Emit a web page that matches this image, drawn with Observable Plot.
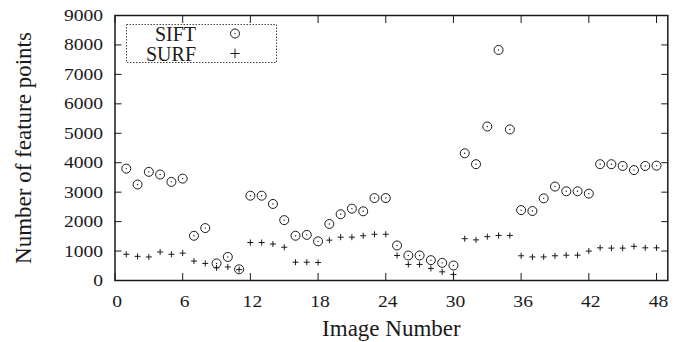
<!DOCTYPE html>
<html>
<head>
<meta charset="utf-8">
<script src="https://cdn.jsdelivr.net/npm/d3@7"></script>
<script src="https://cdn.jsdelivr.net/npm/@observablehq/plot@0.6"></script>
<style>
  html, body { margin: 0; padding: 0; background: #fff; }
  #wrap { position: relative; width: 685px; height: 342px; }
  #legend { position: absolute; left: 0; top: 0; pointer-events: none; }
</style>
</head>
<body>
<div id="wrap"></div>
<script>
// ---- data ----
const images = d3.range(1, 49);
const sift = [3800,3260,3690,3600,3350,3460, 1520,1780,580,800,380,2880,
              2880,2600,2050,1520,1550,1330, 1920,2250,2440,2350,2800,2800,
              1190,850,850,690,600,510, 4320,3950,5230,7830,5130,2390,
              2360,2790,3190,3030,3030,2950, 3950,3950,3890,3750,3890,3900];
const surf = [890,820,800,970,890,930, 660,580,430,460,370,1290,
              1290,1240,1130,620,620,610, 1370,1470,1470,1520,1570,1570,
              850,545,545,410,295,205, 1420,1380,1490,1530,1530,840,
              800,800,840,860,860,1000, 1110,1100,1100,1160,1110,1110];
const xTicks = [0, 6, 12, 18, 24, 30, 36, 42, 48];
const yTicks = [0, 1000, 2000, 3000, 4000, 5000, 6000, 7000, 8000, 9000];
const seriesNames = ["SIFT", "SURF"];
const xLabel = "Image Number";
const yLabel = "Number of feature points";

const siftData = images.map((n, i) => ({n, v: sift[i]}));
const surfData = images.map((n, i) => ({n, v: surf[i]}));

const font = "'Liberation Serif', 'Times New Roman', serif";
const ink = "#1a1a1a";

const chart = Plot.plot({
  width: 685,
  height: 342,
  marginLeft: 114.5,
  marginRight: 17.7,
  marginTop: 15,
  marginBottom: 62,
  style: {fontFamily: font, fontSize: "17px", color: ink, background: "#fff"},
  x: {domain: [0, 49]},
  y: {domain: [0, 9000]},
  marks: [
    // inward ticks on all four sides (outward ticks shifted inside the frame)
    Plot.axisX(xTicks, {anchor: "bottom", tickSize: 7, dy: -7, text: null, label: null, stroke: ink}),
    Plot.axisX(xTicks, {anchor: "top", tickSize: 7, dy: 7, text: null, label: null, stroke: ink}),
    Plot.axisY(yTicks, {anchor: "left", tickSize: 7, dx: 7, text: null, label: null, stroke: ink}),
    Plot.axisY(yTicks, {anchor: "right", tickSize: 7, dx: -7, text: null, label: null, stroke: ink}),
    // tick labels
    Plot.axisX(xTicks, {anchor: "bottom", tickSize: 0, tickPadding: 14, dx: 2, label: null, fontSize: 17}),
    Plot.axisY(yTicks, {anchor: "left", tickSize: 0, tickPadding: 12, label: null, tickFormat: d => String(d), fontSize: 17}),
    Plot.frame({stroke: ink, strokeWidth: 1.5}),
    // SURF
    Plot.dot(surfData, {x: "n", y: "v", symbol: "plus", r: 2.1, stroke: ink, strokeWidth: 1}),
    // SIFT
    Plot.dot(siftData, {x: "n", y: "v", symbol: "circle", r: 4.5, stroke: ink, strokeWidth: 1, fill: "none"}),
    Plot.dot(siftData, {x: "n", y: "v", r: 0.7, fill: ink, stroke: "none"}),
    // axis titles
    Plot.text([xLabel], {frameAnchor: "bottom", dy: 48.6, fontSize: 23, lineAnchor: "middle", fill: ink}),
    Plot.text([yLabel], {frameAnchor: "left", textAnchor: "middle", dx: -91.4, rotate: -90, fontSize: 23, lineAnchor: "middle", fill: ink})
  ]
});

const wrap = document.getElementById("wrap");
wrap.appendChild(chart);

// the reference's digits are slightly wider than Liberation Serif: stretch horizontally
function stretch(sel, k) {
  d3.select(chart).selectAll(sel).each(function () {
    const L = this.getComputedTextLength();
    this.setAttribute("textLength", L * k);
    this.setAttribute("lengthAdjust", "spacingAndGlyphs");
  });
}
stretch('g[aria-label="x-axis tick label"] text', 1.15);
stretch('g[aria-label="y-axis tick label"] text', 1.15);

// ---- legend (inside the plot area, top-left, dotted box) ----
const leg = d3.select(wrap).append("svg")
  .attr("id", "legend").attr("width", 685).attr("height", 342)
  .style("font-family", font);
const g = leg.append("g").attr("transform", "translate(126,24)");
g.append("rect").attr("x", 0.5).attr("y", 0.5).attr("width", 150).attr("height", 38)
  .attr("fill", "#fff").attr("stroke", "#444").attr("stroke-width", 1)
  .attr("stroke-dasharray", "1.5,1.5");
seriesNames.forEach((name, i) => {
  const cy = 9.5 + i * 20;
  g.append("text").attr("x", 70).attr("y", cy + 7).attr("text-anchor", "end")
    .attr("font-size", 20).attr("fill", ink).text(name);
  if (i === 0) {
    g.append("circle").attr("cx", 109).attr("cy", cy).attr("r", 4.5)
      .attr("fill", "none").attr("stroke", ink);
    g.append("circle").attr("cx", 109).attr("cy", cy).attr("r", 0.7).attr("fill", ink);
  } else {
    g.append("path").attr("d", `M${109-4.7},${cy}h9.4M109,${cy-4.7}v9.4`)
      .attr("stroke", ink).attr("fill", "none");
  }
});
</script>
</body>
</html>
